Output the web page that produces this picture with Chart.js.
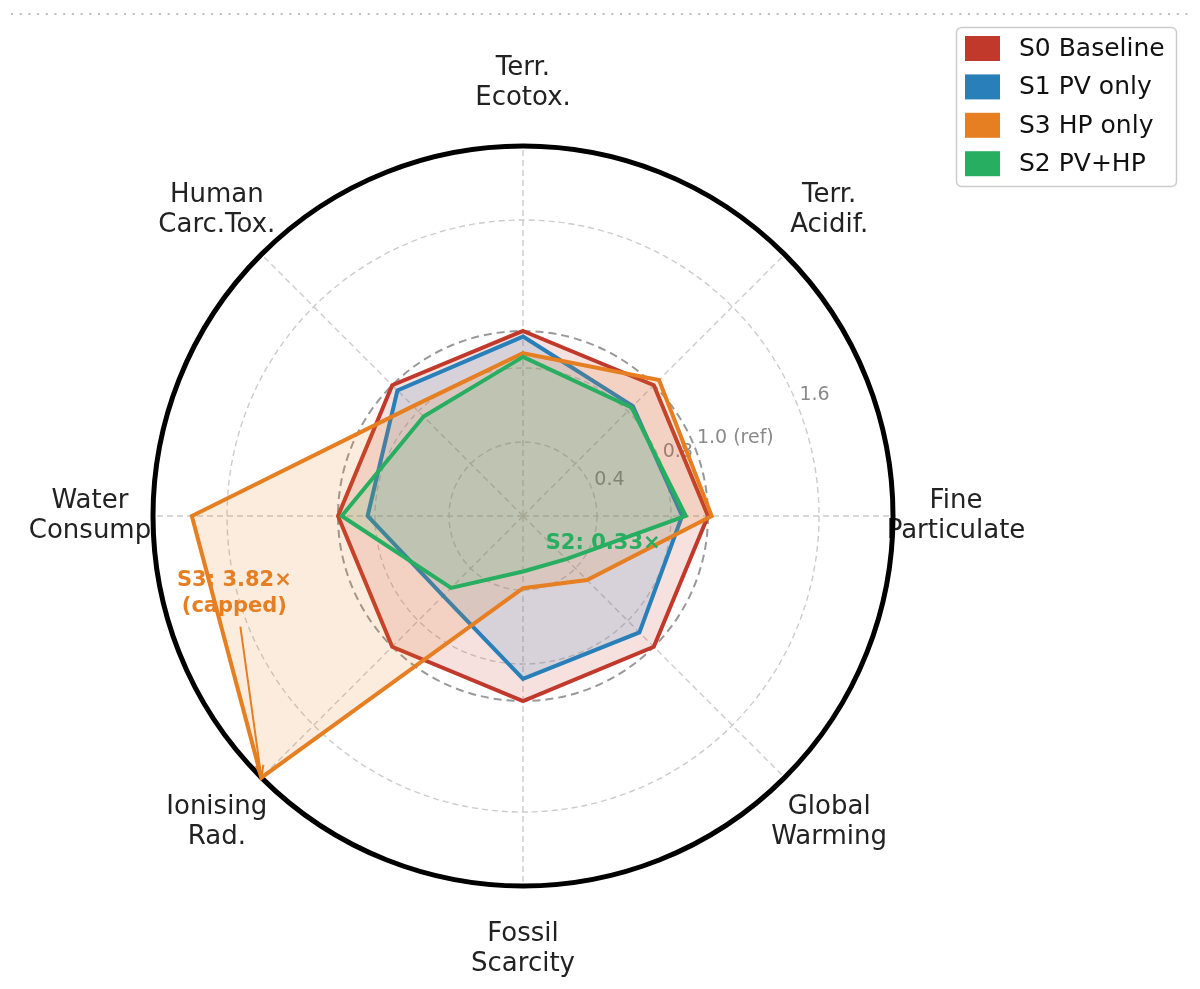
<!DOCTYPE html>
<html lang="en">
<head>
<meta charset="UTF-8">
<title>Impact radar</title>
<style>
  html, body { margin: 0; padding: 0; background: #fff; }
  #wrap { width: 1200px; height: 989px; }
  canvas { display: block; }
</style>
<script src="https://cdn.jsdelivr.net/npm/chart.js"></script>
</head>
<body>
<div id="wrap"><canvas id="radar" width="1200" height="989"></canvas></div>
<script>
// impact categories, clockwise from the top
const categories = [
  ['Terr.', 'Ecotox.'],
  ['Terr.', 'Acidif.'],
  ['Fine', 'Particulate'],
  ['Global', 'Warming'],
  ['Fossil', 'Scarcity'],
  ['Ionising', 'Rad.'],
  ['Water', 'Consump'],
  ['Human', 'Carc.Tox.']
];

// normalised to the baseline (S0 = 1.0); S3 ionising rad. is drawn capped at the 2.0 rim
const s0Baseline = [1.00, 1.00, 1.00, 1.00, 1.00, 1.00, 1.00, 1.00];
const s1PvOnly   = [0.97, 0.84, 0.86, 0.89, 0.88, 0.61, 0.84, 0.96];
const s3HpOnly   = [0.88, 1.04, 1.02, 0.49, 0.39, 2.00, 1.79, 0.84];
const s2PvHp     = [0.86, 0.83, 0.88, 0.33, 0.30, 0.55, 0.98, 0.76];

const radialTicks = [0, 0.4, 0.8, 1.0, 1.6, 2.0];
const tickLabels  = ['', '0.4', '0.8', '1.0 (ref)', '1.6', ''];

const s2Note = ['S2: 0.33×'];
const s3Note = ['S3: 3.82×', '(capped)'];

const FONT = "'DejaVu Sans', sans-serif";

const series = [
  { label: 'S0 Baseline', data: s0Baseline, color: [192, 57, 43],  order: 4 },
  { label: 'S1 PV only',  data: s1PvOnly,   color: [41, 128, 185], order: 3 },
  { label: 'S3 HP only',  data: s3HpOnly,   color: [230, 126, 34], order: 2 },
  { label: 'S2 PV+HP',    data: s2PvHp,     color: [39, 174, 96],  order: 1 }
];
const rgb = (c, a) => `rgba(${c[0]},${c[1]},${c[2]},${a})`;

function drawMultiline(ctx, lines, x, y, lh) {
  lines.forEach((t, k) => ctx.fillText(t, x, y + (k - (lines.length - 1) / 2) * lh));
}

const decor = {
  id: 'decor',
  beforeDraw(chart) {
    const ctx = chart.ctx, r = chart.scales.r;
    ctx.save();
    // dotted rule along the top
    ctx.strokeStyle = '#bdbdbd';
    ctx.lineWidth = 2;
    ctx.setLineDash([2, 6.7]);
    ctx.beginPath();
    ctx.moveTo(11, 14);
    ctx.lineTo(1192, 14);
    ctx.stroke();
    ctx.setLineDash([]);

    // category labels (sit under the rim, like the original)
    ctx.font = `26px ${FONT}`;
    ctx.fillStyle = '#222';
    ctx.textAlign = 'center';
    ctx.textBaseline = 'middle';
    categories.forEach((lines, i) => {
      const p = r.getPointPosition(i, r.drawingArea + 63);
      drawMultiline(ctx, lines, p.x, p.y, 30);
    });
    ctx.restore();
  },
  beforeDatasetsDraw(chart) {
    const ctx = chart.ctx, r = chart.scales.r;
    const a = (67.5 - 90) * Math.PI / 180;
    ctx.save();
    ctx.font = `19px ${FONT}`;
    ctx.fillStyle = '#8a8a8a';
    ctx.textAlign = 'left';
    ctx.textBaseline = 'bottom';
    radialTicks.forEach((v, i) => {
      if (!tickLabels[i]) return;
      const d = r.getDistanceFromCenterForValue(v);
      ctx.fillText(tickLabels[i], r.xCenter + d * Math.cos(a) + 3, r.yCenter + d * Math.sin(a) + 2);
    });
    ctx.restore();
  },
  afterDraw(chart) {
    const ctx = chart.ctx;
    ctx.save();

    // S2 note, next to its global warming vertex
    const gw = chart.getDatasetMeta(3).data[3];
    ctx.font = `bold 21px ${FONT}`;
    ctx.textAlign = 'center';
    ctx.textBaseline = 'middle';
    ctx.fillStyle = rgb(series[3].color, 1);
    drawMultiline(ctx, s2Note, gw.x + 37, gw.y - 16, 26);

    // S3 note with arrow to the capped ionising vertex
    const ion = chart.getDatasetMeta(2).data[5];
    const orange = rgb(series[2].color, 1);
    ctx.fillStyle = orange;
    drawMultiline(ctx, s3Note, ion.x - 27, ion.y - 184, 26);
    const sx = ion.x - 21, sy = ion.y - 151;
    const ang = Math.atan2(ion.y - sy, ion.x - sx);
    ctx.strokeStyle = orange;
    ctx.lineWidth = 2;
    ctx.beginPath();
    ctx.moveTo(sx, sy);
    ctx.lineTo(ion.x, ion.y);
    ctx.moveTo(ion.x - 13 * Math.cos(ang - 0.3), ion.y - 13 * Math.sin(ang - 0.3));
    ctx.lineTo(ion.x, ion.y);
    ctx.lineTo(ion.x - 13 * Math.cos(ang + 0.3), ion.y - 13 * Math.sin(ang + 0.3));
    ctx.stroke();

    // legend box, top right
    const lx = 956.5, ly = 27.5, lw = 220, lh = 159;
    ctx.beginPath();
    ctx.roundRect(lx, ly, lw, lh, 5);
    ctx.fillStyle = 'rgba(255,255,255,0.85)';
    ctx.fill();
    ctx.strokeStyle = '#cccccc';
    ctx.lineWidth = 1.5;
    ctx.stroke();
    ctx.font = `25px ${FONT}`;
    ctx.textAlign = 'left';
    ctx.textBaseline = 'middle';
    series.forEach((s, i) => {
      const y = 48.5 + i * 38.4;
      ctx.fillStyle = rgb(s.color, 1);
      ctx.fillRect(965, y - 12.5, 35, 25);
      ctx.fillStyle = '#111';
      ctx.fillText(s.label, 1019, y + 1);
    });
    ctx.restore();
  }
};

new Chart(document.getElementById('radar'), {
  type: 'radar',
  data: {
    labels: categories,
    datasets: series.map(s => ({
      label: s.label,
      data: s.data,
      order: s.order,
      borderColor: rgb(s.color, 1),
      backgroundColor: rgb(s.color, 0.15),
      borderWidth: 4,
      fill: true,
      pointRadius: 0,
      pointHoverRadius: 0,
      tension: 0,
      borderJoinStyle: 'miter'
    }))
  },
  options: {
    responsive: false,
    devicePixelRatio: 1,
    animation: false,
    layout: { padding: { left: 153, top: 146, right: 307, bottom: 103 } },
    plugins: { legend: { display: false }, tooltip: { enabled: false } },
    scales: {
      r: {
        min: 0,
        max: 2,
        afterBuildTicks: s => { s.ticks = radialTicks.map(v => ({ value: v })); },
        ticks: { display: false },
        pointLabels: { display: false },
        angleLines: { color: '#cccccc', lineWidth: 1.4, borderDash: [6, 4] },
        grid: {
          circular: true,
          color: c => c.tick.value === 2 ? '#000' : (c.tick.value === 1 ? '#999999' : '#cccccc'),
          lineWidth: c => c.tick.value === 2 ? 5 : (c.tick.value === 1 ? 2 : 1.4)
        },
        border: {
          dash: c => c.tick.value === 2 ? [] : (c.tick.value === 1 ? [8, 5] : [6, 4])
        }
      }
    }
  },
  plugins: [decor]
});
</script>
</body>
</html>
